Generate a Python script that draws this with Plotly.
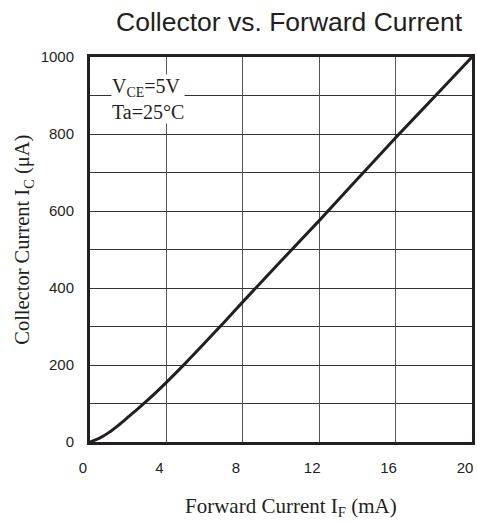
import plotly.graph_objects as go

# Data
forward_current_mA = [0, 0.5, 1, 1.5, 2, 2.5, 3, 3.5, 4, 5, 6, 7, 8, 10, 12, 14, 16, 18, 20]
collector_current_uA = [0, 10, 25, 44, 65, 86, 108, 131, 155, 205, 257, 310, 364, 470, 575, 683, 790, 895, 1000]

x_tick_vals = [0, 4, 8, 12, 16, 20]
y_tick_vals = [0, 200, 400, 600, 800, 1000]

fig = go.Figure()
fig.add_trace(go.Scatter(
    x=forward_current_mA, y=collector_current_uA, mode="lines",
    line=dict(color="#231f20", width=3, shape="spline", smoothing=0.8),
    showlegend=False, hoverinfo="skip",
))

fig.update_layout(
    width=477, height=523,
    margin=dict(l=90, r=2, t=57, b=81),
    plot_bgcolor="white", paper_bgcolor="white",
    font=dict(family="Liberation Sans, Arial, sans-serif", size=15, color="#231f20"),
)

fig.update_xaxes(
    range=[0, 20], tickvals=x_tick_vals,
    showgrid=True, gridcolor="#555555", gridwidth=1,
    showline=True, linecolor="#231f20", linewidth=3, mirror=True,
    ticks="", zeroline=False, ticklabelstandoff=10, ticklabelshift=-7,
    tickfont=dict(size=15),
)
fig.update_yaxes(
    range=[0, 1000], tickvals=y_tick_vals,
    minor=dict(dtick=100, showgrid=True, gridcolor="#333333", gridwidth=1),
    showgrid=True, gridcolor="#333333", gridwidth=1,
    showline=True, linecolor="#231f20", linewidth=3, mirror=True,
    ticks="", zeroline=False, ticklabelstandoff=10,
    tickfont=dict(size=15),
)

serif = "Liberation Serif, Times New Roman, serif"
fig.add_annotation(
    text="Collector vs. Forward Current", xref="paper", yref="paper",
    x=0.522, y=1.091, xanchor="center", yanchor="middle", showarrow=False,
    font=dict(family="Liberation Sans, Arial, sans-serif", size=26.5, color="#231f20"),
)
fig.add_annotation(
    text="Forward Current I<sub>F</sub> (mA)", xref="paper", yref="paper",
    x=0.525, y=-0.17, xanchor="center", yanchor="middle", showarrow=False,
    font=dict(family=serif, size=21, color="#231f20"),
)
fig.add_annotation(
    text="Collector Current I<sub>C</sub> (μA)", xref="paper", yref="paper",
    x=-0.174, y=0.524, xanchor="center", yanchor="middle", showarrow=False,
    textangle=-90,
    font=dict(family=serif, size=20.5, color="#231f20"),
)
fig.add_annotation(
    text="V<sub>CE</sub>=5V<br>Ta=25°C", xref="paper", yref="paper",
    x=0.055, y=0.955, xanchor="left", yanchor="top", showarrow=False,
    align="left", bgcolor="white", borderpad=0,
    font=dict(family=serif, size=20, color="#231f20"),
)

fig.write_html(
    "out.html",
    config={"displayModeBar": False},
    post_script="document.body.style.margin='0';document.body.style.padding='0';",
)
